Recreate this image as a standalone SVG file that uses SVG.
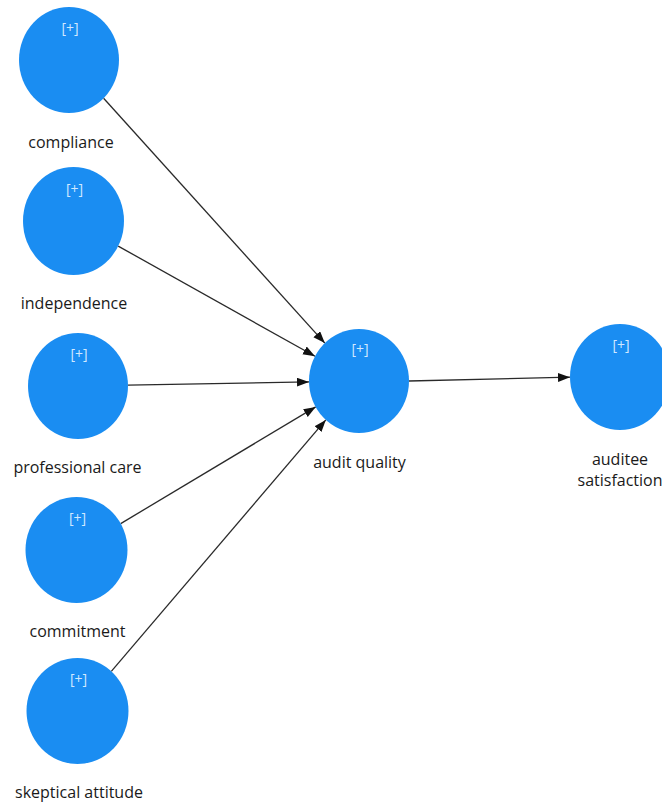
<svg xmlns="http://www.w3.org/2000/svg" width="662" height="802" viewBox="0 0 662 802">
  <style>
    .node { fill: #1a8df2; }
    .tag { font-family: "Open Sans", "Noto Sans", sans-serif; font-size: 14px; fill: #d2e9ff; text-anchor: middle; }
    .label { font-family: "Open Sans", "Noto Sans", sans-serif; font-size: 16px; fill: #1a1a1a; text-anchor: middle; }
    .edge { stroke: #2a2a2a; stroke-width: 1.3; fill: none; marker-end: url(#arrow); }
  </style>
  <defs>
    <marker id="arrow" markerUnits="userSpaceOnUse" markerWidth="13" markerHeight="10" refX="12" refY="4.5" orient="auto">
      <path d="M0,0 L12,4.5 L0,9 Z" fill="#111"/>
    </marker>
  </defs>
  <rect width="662" height="802" fill="#ffffff"/>

  <g id="connectors">
    <line class="edge" x1="103.6" y1="98.3" x2="324.8" y2="343.1"/>
    <line class="edge" x1="118.2" y1="246.1" x2="315" y2="356.3"/>
    <line class="edge" x1="128" y1="385.1" x2="309" y2="381.9"/>
    <line class="edge" x1="120.7" y1="523.6" x2="315.7" y2="406.9"/>
    <line class="edge" x1="111.3" y1="671.3" x2="325.8" y2="419.9"/>
    <line class="edge" x1="409" y1="381" x2="570" y2="377.2"/>
  </g>

  <g id="compliance">
    <ellipse class="node" cx="69" cy="60" rx="50" ry="53"/>
    <text class="tag" x="70" y="33">[+]</text>
    <text class="label" x="71" y="148">compliance</text>
  </g>
  <g id="independence">
    <ellipse class="node" cx="73.5" cy="221" rx="50.5" ry="54"/>
    <text class="tag" x="74.5" y="194">[+]</text>
    <text class="label" x="74" y="309">independence</text>
  </g>
  <g id="professional-care">
    <ellipse class="node" cx="78" cy="386" rx="50" ry="53"/>
    <text class="tag" x="79" y="359">[+]</text>
    <text class="label" x="77.5" y="473">professional care</text>
  </g>
  <g id="commitment">
    <ellipse class="node" cx="76.5" cy="550" rx="51" ry="53"/>
    <text class="tag" x="77.5" y="523">[+]</text>
    <text class="label" x="77.5" y="637">commitment</text>
  </g>
  <g id="skeptical-attitude">
    <ellipse class="node" cx="77.5" cy="711" rx="51" ry="53"/>
    <text class="tag" x="78.5" y="684">[+]</text>
    <text class="label" x="79" y="798">skeptical attitude</text>
  </g>
  <g id="audit-quality">
    <ellipse class="node" cx="359" cy="381" rx="50" ry="52"/>
    <text class="tag" x="360" y="354">[+]</text>
    <text class="label" x="359.5" y="468">audit quality</text>
  </g>
  <g id="auditee-satisfaction">
    <ellipse class="node" cx="620" cy="377" rx="50" ry="53"/>
    <text class="tag" x="621" y="350">[+]</text>
    <text class="label" x="620" y="465">auditee</text>
    <text class="label" x="620" y="486">satisfaction</text>
  </g>
</svg>
